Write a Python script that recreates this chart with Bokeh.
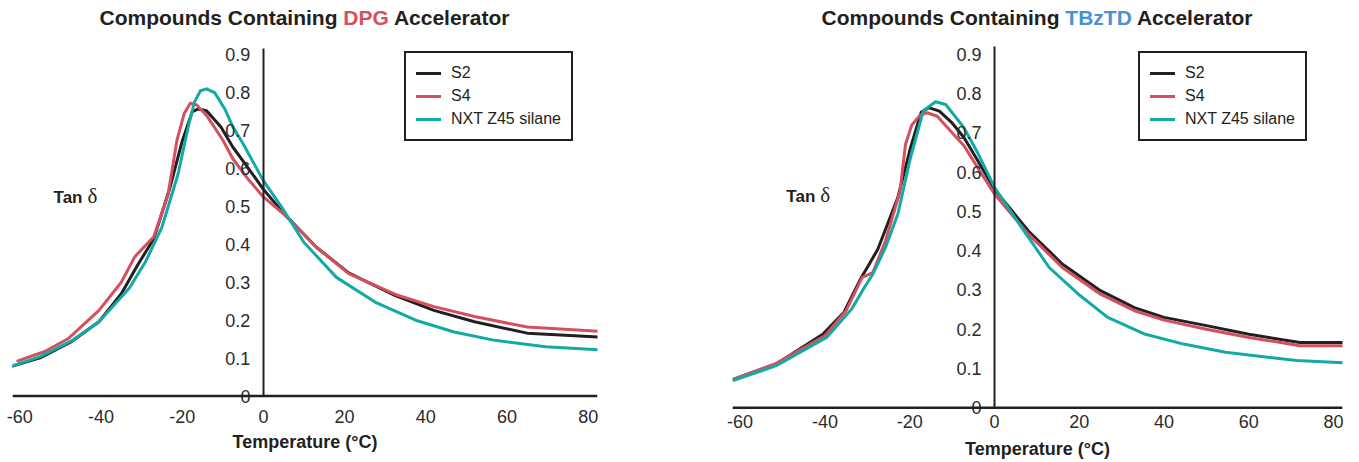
from bokeh.plotting import figure
from bokeh.models import Legend, LegendItem, Label, Div, FixedTicker, Range1d, Span
from bokeh.layouts import row, column
from bokeh.embed import file_html
from bokeh.resources import INLINE

# ---------------- data ----------------
x_ticks = [-60, -40, -20, 0, 20, 40, 60, 80]
x_tick_labels = ["-60", "-40", "-20", "0", "20", "40", "60", "80"]
y_ticks = [0, 0.1, 0.2, 0.3, 0.4, 0.5, 0.6, 0.7, 0.8, 0.9]
y_tick_labels = ["0", "0.1", "0.2", "0.3", "0.4", "0.5", "0.6", "0.7", "0.8", "0.9"]
series_names = ["S2", "S4", "NXT Z45 silane"]

# DPG panel
dpg_s2_t = [-62.5, -55, -47.5, -40.5, -35, -31, -27, -23, -20, -17.5, -16, -14, -10.5, -7.5, -4, 0, 5, 13, 21, 32.5, 42, 52, 65, 82.5]
dpg_s2_v = [0.077, 0.101, 0.142, 0.196, 0.27, 0.345, 0.415, 0.55, 0.672, 0.75, 0.757, 0.752, 0.71, 0.656, 0.605, 0.545, 0.482, 0.393, 0.325, 0.265, 0.226, 0.196, 0.166, 0.156]
dpg_s4_t = [-60.5, -54, -48, -40.5, -35, -31.7, -27, -23.5, -21.3, -19.5, -18, -16.5, -14, -10, -7.5, -4, 0, 5, 13, 21, 32.5, 42, 52, 65, 82.5]
dpg_s4_v = [0.093, 0.117, 0.152, 0.226, 0.3, 0.367, 0.42, 0.53, 0.674, 0.745, 0.772, 0.768, 0.74, 0.675, 0.625, 0.575, 0.525, 0.48, 0.393, 0.323, 0.268, 0.236, 0.21, 0.182, 0.171]
dpg_nxt_t = [-62.5, -55, -47, -40.5, -33, -29, -25, -21, -18.5, -17, -15.5, -14, -12, -9.5, -7.5, -5, 0, 5, 10, 18, 27.5, 37.5, 47, 57, 69.5, 82.5]
dpg_nxt_v = [0.077, 0.104, 0.147, 0.196, 0.285, 0.355, 0.445, 0.586, 0.71, 0.775, 0.805, 0.81, 0.8, 0.757, 0.709, 0.665, 0.568, 0.49, 0.405, 0.313, 0.248, 0.2, 0.169, 0.147, 0.13, 0.122]

# TBzTD panel
tbz_s2_t = [-61.5, -51.5, -40.5, -35.5, -31.5, -30, -27.5, -22.8, -19.8, -17.3, -15.5, -13, -10, -7.2, -4, 0, 8, 16, 25, 33, 40, 50, 60, 72, 83]
tbz_s2_v = [0.073, 0.111, 0.187, 0.243, 0.33, 0.357, 0.404, 0.535, 0.662, 0.752, 0.764, 0.755, 0.725, 0.688, 0.63, 0.556, 0.45, 0.366, 0.298, 0.255, 0.23, 0.209, 0.187, 0.166, 0.166]
tbz_s4_t = [-61.5, -51.5, -40, -35, -31.2, -28.7, -25.7, -22.3, -21, -19.5, -17.5, -15.9, -13.5, -10, -7.2, -4, 0, 8, 16, 25, 33, 40, 50, 60, 72, 83]
tbz_s4_v = [0.073, 0.113, 0.183, 0.247, 0.332, 0.344, 0.425, 0.55, 0.67, 0.72, 0.745, 0.751, 0.742, 0.7, 0.667, 0.612, 0.544, 0.442, 0.357, 0.289, 0.247, 0.223, 0.2, 0.179, 0.158, 0.158]
tbz_nxt_t = [-61.5, -51.5, -39.6, -33.7, -30.7, -28.7, -25.7, -22.8, -19.8, -16.8, -13.9, -11.5, -7.2, -4, 0, 5.9, 12.9, 19.8, 26.7, 35.6, 44.6, 54.5, 71.3, 83]
tbz_nxt_v = [0.07, 0.107, 0.179, 0.251, 0.306, 0.34, 0.408, 0.493, 0.637, 0.756, 0.779, 0.772, 0.713, 0.65, 0.561, 0.467, 0.357, 0.289, 0.23, 0.187, 0.162, 0.141, 0.12, 0.114]

# ---------------- style ----------------
SANS = "Liberation Sans"
BLACK = "#231f20"
RED = "#d5505f"
TEAL = "#12aaa6"
BLUE = "#4a90d6"
TEXT = "#2b2b2b"
colors = [BLACK, RED, TEAL]


def title_div(width, frame_left, frame_width, accel, accel_color):
    html = (
        f'<div style="margin-left:{frame_left}px;width:{frame_width}px;padding-top:8px;text-align:center;'
        f"font-family:'Liberation Sans',Arial,sans-serif;font-weight:bold;font-size:21px;"
        f'line-height:20px;color:{BLACK};white-space:nowrap">'
        f'Compounds Containing <span style="color:{accel_color}">{accel}</span> Accelerator</div>'
    )
    return Div(text=html, width=width, height=32, margin=0)


def panel(width, height, x_range, y_range, y_bound, borders, data, legend_loc, tan_pos,
          xlabel_standoff, xaxis_label_standoff):
    bl, br, bt, bb = borders
    p = figure(width=width, height=height, output_backend="svg", toolbar_location=None,
               x_range=Range1d(*x_range), y_range=Range1d(*y_range),
               min_border_left=bl, min_border_right=br, min_border_top=bt, min_border_bottom=bb)
    p.outline_line_color = None
    p.xgrid.visible = False
    p.ygrid.visible = False

    # x axis (labels only; the axis line is drawn at y = 0)
    xa = p.xaxis[0]
    xa.ticker = FixedTicker(ticks=x_ticks)
    xa.major_label_overrides = {t: l for t, l in zip(x_ticks, x_tick_labels)}
    xa.axis_line_color = None
    xa.major_tick_line_color = None
    xa.minor_tick_line_color = None
    xa.major_tick_out = 0
    xa.major_tick_in = 0
    xa.major_label_standoff = xlabel_standoff
    xa.major_label_text_font = SANS
    xa.major_label_text_font_size = "18px"
    xa.major_label_text_color = TEXT
    xa.axis_label = "Temperature (°C)"
    xa.axis_label_text_font = SANS
    xa.axis_label_text_font_style = "bold"
    xa.axis_label_text_font_size = "18px"
    xa.axis_label_text_color = BLACK
    xa.axis_label_standoff = xaxis_label_standoff
    p.add_layout(Span(location=0, dimension="width", line_color=BLACK, line_width=2.5))

    # y axis crossing at x = 0
    ya = p.yaxis[0]
    ya.fixed_location = 0
    ya.bounds = (0, y_bound)
    ya.ticker = FixedTicker(ticks=y_ticks)
    ya.major_label_overrides = {t: l for t, l in zip(y_ticks, y_tick_labels)}
    ya.axis_line_color = BLACK
    ya.axis_line_width = 2
    ya.major_tick_line_color = None
    ya.minor_tick_line_color = None
    ya.major_tick_out = 0
    ya.major_tick_in = 0
    ya.major_label_standoff = 13
    ya.major_label_text_font = SANS
    ya.major_label_text_font_size = "18px"
    ya.major_label_text_color = TEXT

    items = []
    for name, (t, v), c in zip(series_names, data, colors):
        r = p.line(t, v, line_color=c, line_width=3, line_join="round", line_cap="round")
        items.append(LegendItem(label=name, renderers=[r]))

    legend = Legend(items=items, location=legend_loc, margin=0, padding=10, spacing=3,
                    label_height=20, glyph_height=20, glyph_width=25, label_standoff=10,
                    label_text_font=SANS, label_text_font_size="16px", label_text_color=BLACK,
                    border_line_color=BLACK, border_line_width=2.5, border_line_alpha=1,
                    background_fill_color="white", background_fill_alpha=1)
    p.add_layout(legend)

    tx, ty = tan_pos
    p.add_layout(Label(x=tx, y=ty, text="Tan", text_font=SANS, text_font_style="bold",
                       text_font_size="17px", text_color=BLACK, text_baseline="middle"))
    p.add_layout(Label(x=tx, y=ty, x_offset=34, y_offset=1, text="δ", text_font="Liberation Serif",
                       text_font_size="21px", text_color=BLACK, text_baseline="middle"))
    return p


left_fig = panel(620, 430, (-61.8, 82.3), (-0.03, 0.94), 0.915, (12, 23, 7, 55),
                 [(dpg_s2_t, dpg_s2_v), (dpg_s4_t, dpg_s4_v), (dpg_nxt_t, dpg_nxt_v)],
                 (392, 266), (-51.7, 0.524), 2, 6)
right_fig = panel(739, 430, (-61.8, 82.1), (-0.03, 0.94), 0.92, (112, 17, 6, 43),
                  [(tbz_s2_t, tbz_s2_v), (tbz_s4_t, tbz_s4_v), (tbz_nxt_t, tbz_nxt_v)],
                  (406, 278), (-49.1, 0.539), -5, 8)

left_title = title_div(620, 12, 585, "DPG", RED)
right_title = title_div(739, 112, 610, "TBzTD", BLUE)

layout = row(column(left_title, left_fig), column(right_title, right_fig))

open("out.html", "w").write(file_html(layout, INLINE))
